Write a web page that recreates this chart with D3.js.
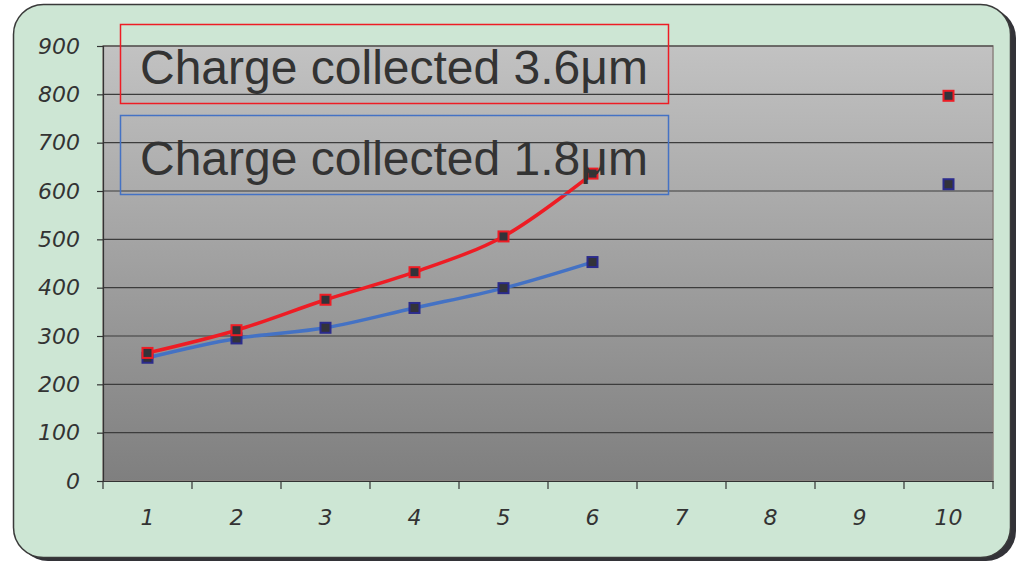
<!DOCTYPE html>
<html><head><meta charset="utf-8">
<script src="https://cdn.jsdelivr.net/npm/d3@7"></script>
<style>html,body{margin:0;padding:0;background:#fff;}svg{display:block;}</style>
</head><body>
<svg id="c" width="1023" height="562"></svg>
<script>
const categories = ["1","2","3","4","5","6","7","8","9","10"];
const series36 = [265, 312, 375, 432, 506, 636, null, null, null, 797];
const series18 = [255, 295, 317, 358, 399, 453, null, null, null, 614];
const yTicks = [0,100,200,300,400,500,600,700,800,900];
const seriesNames = ["Charge collected 3.6μm", "Charge collected 1.8μm"];

const svg = d3.select("#c");
const defs = svg.append("defs");
const g1 = defs.append("linearGradient").attr("id","pg").attr("x1",0).attr("y1",0).attr("x2",0).attr("y2",1);
g1.append("stop").attr("offset","0%").attr("stop-color","#c2c2c2");
g1.append("stop").attr("offset","100%").attr("stop-color","#7f7f7f");

// outer frame with shadow
svg.append("rect").attr("x",18).attr("y",8).attr("width",998).attr("height",553).attr("rx",30).attr("fill","#333338");
svg.append("rect").attr("x",13.5).attr("y",4.5).attr("width",997).attr("height",553).attr("rx",30)
  .attr("fill","#cde6d4").attr("stroke","#3a3a3a").attr("stroke-width",1.5);

const L=103, R=993, T=46, B=481;
const x = d3.scaleBand().domain(categories).range([L,R]).padding(0);
const y = d3.scaleLinear().domain([0,900]).range([B,T]);

svg.append("rect").attr("x",L).attr("y",T).attr("width",R-L).attr("height",B-T).attr("fill","url(#pg)")
  .attr("stroke","#8c8480").attr("stroke-width",1.5);

// gridlines
svg.append("g").selectAll("line").data(yTicks.filter(d=>d>0)).join("line")
  .attr("x1",L).attr("x2",R).attr("y1",d=>y(d)).attr("y2",d=>y(d))
  .attr("stroke","#3c3c3c").attr("stroke-width",1.2);

const fontAx = "'DejaVu Sans',sans-serif";
// y axis
const ya = svg.append("g").attr("transform",`translate(${L},0)`)
  .call(d3.axisLeft(y).tickValues(yTicks).tickSize(6).tickPadding(17));
ya.select(".domain").attr("stroke","#333").attr("stroke-width",1.2);
ya.selectAll(".tick line").attr("stroke","#333").attr("stroke-width",1.2);
ya.selectAll("text").attr("font-family",fontAx).attr("font-style","italic").attr("font-size",22).attr("fill","#333");

// x axis
const xa = svg.append("g").attr("transform",`translate(0,${B})`)
  .call(d3.axisBottom(x).tickSize(0).tickPadding(28));
xa.select(".domain").attr("stroke","#333").attr("stroke-width",1.2);
xa.selectAll("text").attr("font-family",fontAx).attr("font-style","italic").attr("font-size",22).attr("fill","#333");
const bounds = categories.map(c=>x(c)).concat([R]);
svg.append("g").selectAll("line").data(bounds).join("line")
  .attr("x1",d=>d).attr("x2",d=>d).attr("y1",B).attr("y2",B+8).attr("stroke","#333").attr("stroke-width",1.2);

const cx = c => x(c) + x.bandwidth()/2;
const line = d3.line().defined(d=>d.v!=null).x(d=>cx(d.c)).y(d=>y(d.v)).curve(d3.curveCatmullRom.alpha(0.5));

function drawSeries(vals, lineColor, markerStroke){
  const data = categories.map((c,i)=>({c, v:vals[i]}));
  const runs = data.slice(0,6);
  svg.append("path").datum(runs).attr("d",line).attr("fill","none").attr("stroke",lineColor).attr("stroke-width",3.5);
  svg.append("g").selectAll("rect").data(data.filter(d=>d.v!=null)).join("rect")
    .attr("x",d=>cx(d.c)-5).attr("y",d=>y(d.v)-5).attr("width",10).attr("height",10)
    .attr("fill","#33333a").attr("stroke",markerStroke).attr("stroke-width",2);
}
drawSeries(series18, "#4472c4", "#2b2b8c");
drawSeries(series36, "#ee1c24", "#ee1c24");

// legend-like labels
const boxes = [
  {name: seriesNames[0], color:"#ee1c24", y:24},
  {name: seriesNames[1], color:"#4472c4", y:115}
];
boxes.forEach(b=>{
  svg.append("rect").attr("x",120.5).attr("y",b.y+0.5).attr("width",548).attr("height",79)
    .attr("fill","none").attr("stroke",b.color).attr("stroke-width",1.5);
  svg.append("text").attr("x",140).attr("y",b.y+60).text(b.name)
    .attr("font-family","'Liberation Sans',Arial,sans-serif").attr("font-size",48).attr("fill","#333");
});
</script>
</body></html>
